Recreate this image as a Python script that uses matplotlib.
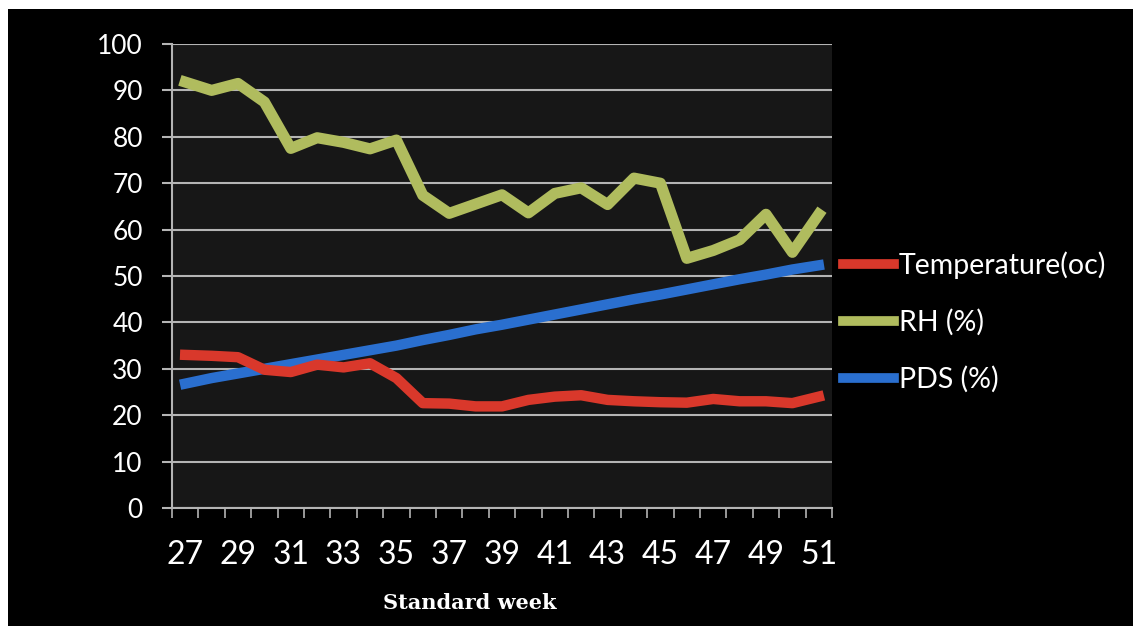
import matplotlib
matplotlib.use("Agg")
import matplotlib.pyplot as plt
from matplotlib.patches import Rectangle
import numpy as np

# Standard weeks on the x axis
weeks = list(range(27, 52))

# values
temperature = [33.0, 32.8, 32.5, 29.8, 29.3, 30.9, 30.3, 31.2, 28.0, 22.6,
               22.5, 21.9, 21.9, 23.3, 24.0, 24.3, 23.3, 23.0, 22.8, 22.7,
               23.5, 23.0, 23.0, 22.6, 24.0]
rh = [91.8, 90.0, 91.5, 87.5, 77.5, 79.8, 78.8, 77.4, 79.3, 67.4,
      63.5, 65.5, 67.5, 63.6, 67.8, 69.0, 65.4, 71.1, 70.0, 53.8,
      55.5, 57.8, 63.3, 55.1, 63.3]
pds = [26.8, 28.0, 29.0, 30.0, 31.0, 32.0, 33.0, 34.0, 35.0, 36.2,
       37.3, 38.5, 39.5, 40.6, 41.7, 42.8, 43.9, 45.0, 46.0, 47.1,
       48.2, 49.3, 50.3, 51.4, 52.3]

series_names = ["Temperature(oc)", "RH (%)", "PDS (%)"]
colores = ["#d9382b", "#b0bc5e", "#2a6fcf"]

W, H = 1141, 633
fig = plt.figure(figsize=(W / 100, H / 100), dpi=100)
fig.patch.set_facecolor("white")

# black panel with a thin white margin round it
fig.patches.append(Rectangle((8 / W, 1 - 626 / H), (1133 - 8) / W, (626 - 9) / H,
                             transform=fig.transFigure, facecolor="black",
                             edgecolor="none", zorder=-5))

ax = fig.add_axes([172 / W, 1 - 508 / H, 660 / W, 464 / H])
ax.set_zorder(2)
ax.set_facecolor("#171717")

x = np.arange(len(weeks))
ax.plot(x, pds, color=colores[2], lw=7.5, solid_joinstyle="round", zorder=3)
ax.plot(x, rh, color=colores[1], lw=8.0, solid_joinstyle="round", zorder=3)
ax.plot(x, temperature, color=colores[0], lw=7.5, solid_joinstyle="round", zorder=4)

ax.set_xlim(-0.5, len(weeks) - 0.5)
ax.set_ylim(0, 100)

gris = "#b4b4b4"
ax.set_yticks(np.arange(0, 101, 10))
ax.yaxis.grid(True, color=gris, lw=1.5)
ax.set_axisbelow(True)

ax.set_xticks(x[::2])
ax.set_xticklabels([str(w) for w in weeks[::2]])
ax.set_xticks(np.arange(-0.5, len(weeks), 1), minor=True)

for s in ["top", "right"]:
    ax.spines[s].set_visible(False)
for s in ["left", "bottom"]:
    ax.spines[s].set_color(gris)
    ax.spines[s].set_linewidth(1.5)

ax.tick_params(axis="x", which="major", length=0, pad=23, labelsize=23,
               labelcolor="white")
ax.tick_params(axis="x", which="minor", length=7, width=1.2, color=gris)
ax.tick_params(axis="y", length=7, width=1.5, color=gris, pad=14,
               labelsize=19, labelcolor="white")
for lbl in ax.get_xticklabels() + ax.get_yticklabels():
    lbl.set_family("Lato")

fig.text(470 / W, 1 - 603 / H, "Standard week", ha="center", va="center",
         color="white", fontsize=15, fontweight="bold", family="DejaVu Serif")

handles = [plt.Line2D([], [], color=c, lw=7) for c in colores]
leg = fig.legend(handles, series_names, loc="center left",
                 bbox_to_anchor=(843 / W, 1 - 322 / H), frameon=False,
                 borderpad=0, borderaxespad=0, handlelength=1.8,
                 handletextpad=0.15, labelspacing=1.05,
                 prop={"family": "Lato", "size": 20.5})
for t in leg.get_texts():
    t.set_color("white")

plt.savefig("out.png", dpi=100, facecolor=fig.get_facecolor())
